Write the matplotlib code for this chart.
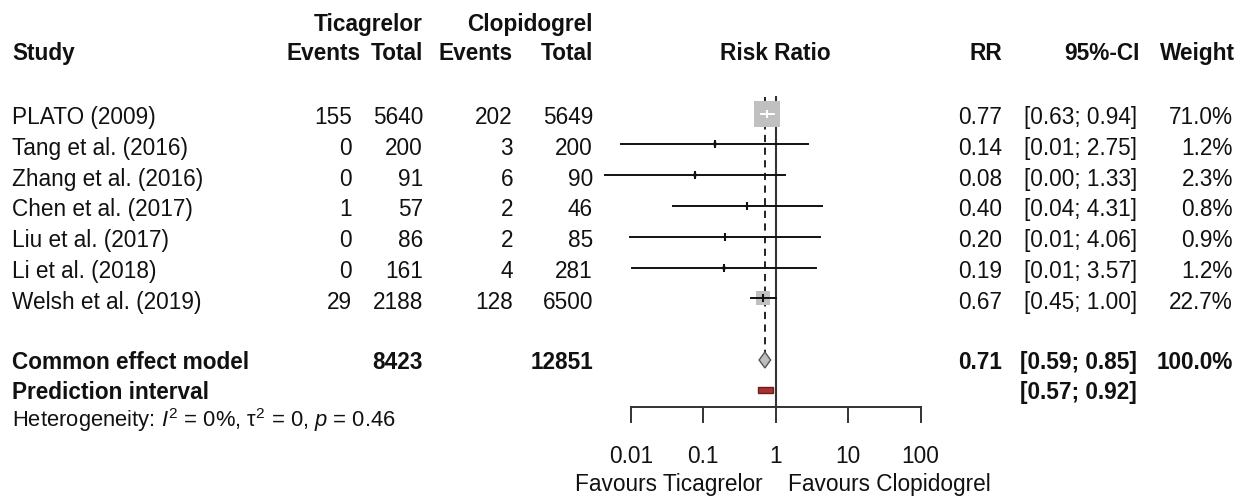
import numpy as np
import matplotlib
matplotlib.use("Agg")
import matplotlib.pyplot as plt
from matplotlib.patches import Polygon

# study level data
studies = ["PLATO (2009)", "Tang et al. (2016)", "Zhang et al. (2016)", "Chen et al. (2017)",
           "Liu et al. (2017)", "Li et al. (2018)", "Welsh et al. (2019)"]
tic_events = [155, 0, 0, 1, 0, 0, 29]
tic_total = [5640, 200, 91, 57, 86, 161, 2188]
clo_events = [202, 3, 6, 2, 2, 4, 128]
clo_total = [5649, 200, 90, 46, 85, 281, 6500]
rr = [0.77, 0.143, 0.076, 0.40, 0.198, 0.193, 0.67]
ci_lo = [0.63, 0.0074, 0.0044, 0.038, 0.0096, 0.0105, 0.45]
ci_hi = [0.94, 2.75, 1.33, 4.31, 4.06, 3.57, 1.00]
weight = [71.0, 1.2, 2.3, 0.8, 0.9, 1.2, 22.7]

# pooled results
common_rr, common_lo, common_hi, common_w = 0.71, 0.59, 0.85, 100.0
pred_lo, pred_hi = 0.57, 0.92
het_i2, het_tau2, het_p = "0%", "0", "0.46"

ticks = [0.01, 0.1, 1, 10, 100]

plt.rcParams['font.family'] = ['Liberation Sans', 'DejaVu Sans']
plt.rcParams['mathtext.fontset'] = 'custom'
plt.rcParams['mathtext.rm'] = 'Liberation Sans'
plt.rcParams['mathtext.it'] = 'Liberation Sans:italic'
FS = 16.3

W, H = 1247, 500
fig = plt.figure(figsize=(W / 100, H / 100), dpi=100)

# text layer in pixel units
tab = fig.add_axes([0, 0, 1, 1])
tab.set_xlim(0, W)
tab.set_ylim(H, 0)
tab.axis('off')

# forest layer: log x, pixel y
one_px, dec_px = 775.7, 72.4
left_px, right_px = 600, 940
ax = fig.add_axes([left_px / W, 0, (right_px - left_px) / W, 1])
ax.set_xscale('log')
ax.set_xlim(10 ** ((left_px - one_px) / dec_px), 10 ** ((right_px - one_px) / dec_px))
ax.set_ylim(H, 0)
ax.axis('off')
ax.patch.set_alpha(0)
ax.set_clip_on(False)


def txt(x, y, s, ha='right', bold=False):
    tab.text(x, y, s, ha=ha, va='baseline', fontsize=FS,
             fontweight='bold' if bold else 'normal', color='#111111')


# column right edges
c_te, c_tt, c_ce, c_ct = 352, 423, 513, 593
c_rr, c_ci, c_w = 1002, 1137, 1233

# header
txt(c_tt, 31.5, "Ticagrelor", bold=True)
txt(c_ct, 31.5, "Clopidogrel", bold=True)
txt(12, 60, "Study", ha='left', bold=True)
txt(361, 60, "Events", bold=True)
txt(c_tt, 60, "Total", bold=True)
txt(c_ce, 60, "Events", bold=True)
txt(c_ct, 60, "Total", bold=True)
txt(one_px, 60, "Risk Ratio", ha='center', bold=True)
txt(c_rr, 60, "RR", bold=True)
txt(1140, 60, "95%-CI", bold=True)
txt(1235, 60, "Weight", bold=True)

base = 124 + 30.8 * np.arange(len(studies))
for i, name in enumerate(studies):
    y = base[i]
    txt(12, y, name, ha='left')
    txt(c_te, y, str(tic_events[i]))
    txt(c_tt, y, str(tic_total[i]))
    txt(c_ce, y, str(clo_events[i]))
    txt(c_ct, y, str(clo_total[i]))
    txt(c_rr, y, f"{rr[i]:.2f}")
    txt(c_ci, y, f"[{ci_lo[i]:.2f}; {ci_hi[i]:.2f}]")
    txt(c_w, y, f"{weight[i]:.1f}%")

    # square area proportional to weight
    ym = y - 10.5
    side = 26 * np.sqrt(weight[i] / max(weight))
    ax.plot(rr[i], ym, marker='s', ms=side * 0.72, color='#c0c0c0', mew=0, zorder=2, clip_on=False)
    half = side / 2 / dec_px
    inside = (np.log10(ci_lo[i]) >= np.log10(rr[i]) - half and
              np.log10(ci_hi[i]) <= np.log10(rr[i]) + half)
    c = 'white' if inside else '#111111'
    ax.plot([ci_lo[i], ci_hi[i]], [ym, ym], color=c, lw=1.4, zorder=3, clip_on=False)
    ax.plot(rr[i], ym, marker='|', ms=5.5, mew=1.5, color=c, zorder=4)

# pooled rows
y_common, y_pred, y_het = 369, 399, 427
txt(12, y_common, "Common effect model", ha='left', bold=True)
txt(c_tt, y_common, str(sum(tic_total)), bold=True)
txt(c_ct, y_common, str(sum(clo_total)), bold=True)
txt(c_rr, y_common, f"{common_rr:.2f}", bold=True)
txt(c_ci, y_common, f"[{common_lo:.2f}; {common_hi:.2f}]", bold=True)
txt(c_w, y_common, f"{common_w:.1f}%", bold=True)
txt(12, y_pred, "Prediction interval", ha='left', bold=True)
txt(c_ci, y_pred, f"[{pred_lo:.2f}; {pred_hi:.2f}]", bold=True)
tab.text(12, y_het, r"Heterogeneity: $\mathit{I}^{2}$ = " + het_i2 + r", $\mathrm{\tau}^{2}$ = "
         + het_tau2 + r", $\mathit{p}$ = " + het_p, ha='left', va='baseline',
         fontsize=15.8, color='#111111')

yc = y_common - 9
ax.add_patch(Polygon([(common_lo, yc), (common_rr, yc - 8), (common_hi, yc), (common_rr, yc + 8)],
                     closed=True, facecolor='#bebebe', edgecolor='#555555', lw=1, zorder=3))
yp = y_pred - 9
ax.add_patch(Polygon([(pred_lo, yp - 3), (pred_hi, yp - 3), (pred_hi, yp + 3), (pred_lo, yp + 3)],
                     closed=True, facecolor='#a83232', edgecolor='#6e1c1c', lw=1, zorder=3))

# reference lines
axis_y = 407
ax.plot([1, 1], [97, axis_y], color='#333333', lw=1.5, zorder=1)
ax.plot([common_rr, common_rr], [97, yc - 8], color='#111111', lw=1.3,
        ls=(0, (4, 3)), zorder=1)

# x axis
ax.plot([ticks[0], ticks[-1]], [axis_y, axis_y], color='#333333', lw=1.4)
for t in ticks:
    ax.plot([t, t], [axis_y, axis_y + 15], color='#333333', lw=1.4)
    ax.text(t, 463, f"{t:g}", ha='center', va='baseline', fontsize=FS, color='#111111')
txt(763, 491, "Favours Ticagrelor")
txt(788, 491, "Favours Clopidogrel", ha='left')

fig.savefig("out.png", dpi=100)
